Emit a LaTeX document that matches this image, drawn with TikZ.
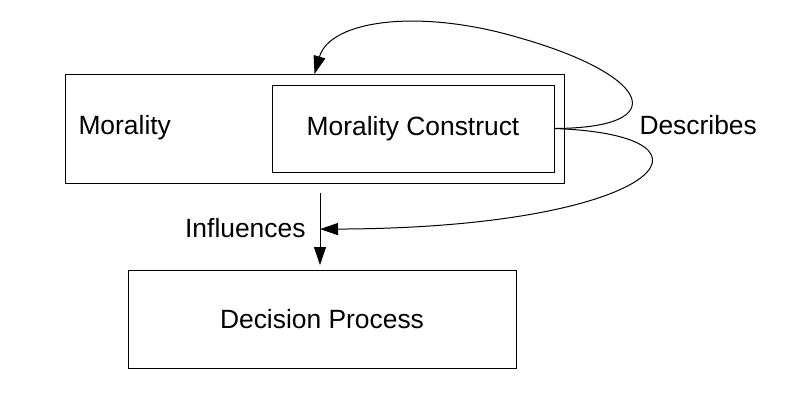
\documentclass[tikz,border=0pt]{standalone}
\usepackage{fontspec}
\setmainfont{Liberation Sans}
\usetikzlibrary{arrows.meta}

\tikzset{every picture/.style={line width=0.75pt}}
\tikzset{
  box/.style={draw, inner sep=0pt, outer sep=0pt},
  lbl/.style={inner sep=0.75pt, font=\fontsize{19.8}{23}\selectfont},
  arr/.style={-{Triangle[length=13.5pt,width=9pt]}},
}

\begin{document}
\begin{tikzpicture}[x=0.75pt,y=0.75pt,yscale=-1,xscale=1]
  \path [use as bounding box] (0,0) rectangle (794,405);

  % Boxes
  \node (moral) [box, minimum width=374.25pt, minimum height=81.75pt] at (314.5,128.5) {};
  \node (construct) [lbl, box, minimum width=211.5pt, minimum height=65.25pt] at (413,128.5) {Morality Construct};
  \node (decision) [lbl, box, minimum width=291pt, minimum height=73.5pt] at (322,319) {Decision Process};

  % Text Node
  \node (morallbl) [lbl, anchor=west] at (77,128) {Morality};
  % Text Node
  \node (infl) [lbl, anchor=east] at (307,228) {Influences};
  % Text Node
  \node (desc) [lbl, anchor=west] at (638,125) {Describes};

  %Straight Lines
  \draw [arr, shorten <=7.5pt, shorten >=3.75pt] ([xshift=-1.5pt]moral.south -| decision.north) -- coordinate[pos=0.53] (hit) ([xshift=-1.5pt]decision.north);
  %Curve Lines
  \draw [arr] (construct.east) .. controls (675,128) and (650,75) .. (520,38) .. controls (420,8) and (330,20) .. (moral.north);
  %Curve Lines
  \draw [arr] (construct.east) .. controls (740,135) and (660,228) .. (hit);

\end{tikzpicture}
\end{document}
